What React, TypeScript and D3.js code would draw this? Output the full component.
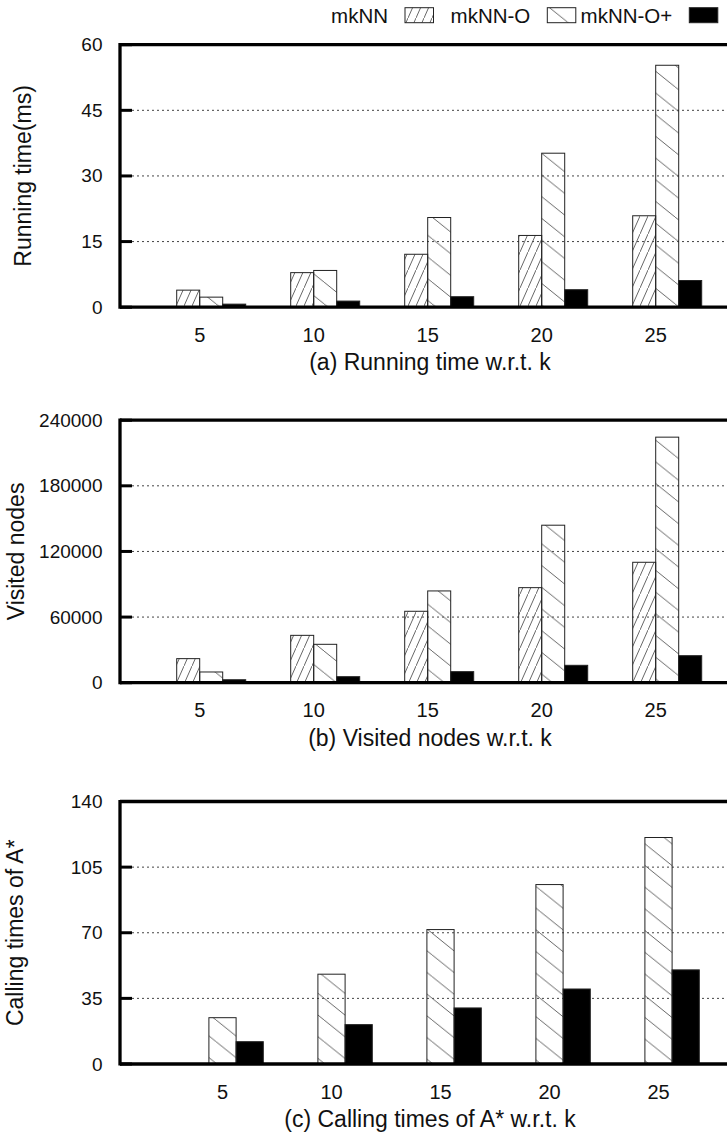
import React from 'react';
import * as d3 from 'd3';

// categories (k) and series
const categories = ['5', '10', '15', '20', '25'];
const seriesNames = ['mkNN', 'mkNN-O', 'mkNN-O+'];

// (a) running time (ms)
const runMkNN = [3.9, 7.9, 12.1, 16.4, 20.9];
const runMkNNO = [2.3, 8.4, 20.5, 35.2, 55.3];
const runMkNNOPlus = [0.7, 1.4, 2.4, 4.0, 6.1];
const runTicks = [0, 15, 30, 45, 60];

// (b) visited nodes
const visMkNN = [22000, 43300, 65300, 86900, 110100];
const visMkNNO = [9800, 35100, 83900, 144000, 224500];
const visMkNNOPlus = [2700, 5500, 10100, 15900, 24700];
const visTicks = [0, 60000, 120000, 180000, 240000];

// (c) calling times of A* (mkNN has none)
const callMkNN = [null, null, null, null, null];
const callMkNNO = [24.7, 47.9, 71.7, 95.7, 120.8];
const callMkNNOPlus = [11.9, 21.0, 29.9, 40.0, 50.2];
const callTicks = [0, 35, 70, 105, 140];

const font = '"Liberation Sans", Arial, sans-serif';
const fills = ['url(#hatchFwd)', 'url(#hatchBack)', '#000'];

const W = 727;
const H = 1137;
const left = 120;
const right = 740;
const plotH = 262.5;

function Panel({ top, series, ticks, ylabel, ylabelX, caption, tickRange, barRange }) {
  const bottom = top + plotH;
  const y = d3.scaleLinear().domain([ticks[0], ticks[ticks.length - 1]]).range([bottom, top]);
  const x = d3.scalePoint().domain(categories).range(tickRange);
  const inner = d3.scaleBand().domain(seriesNames).range(barRange);

  return (
    <g>
      {/* grid lines */}
      {ticks.slice(1, -1).map(t => (
        <line key={'g' + t} x1={left + 12} x2={right} y1={y(t)} y2={y(t)}
          stroke="#444" strokeWidth={1} strokeDasharray="2,3" />
      ))}
      {/* bars */}
      {series.map((vals, si) => vals.map((v, i) => (
        v == null ? null :
          <rect key={`${si}-${i}`}
            x={x(categories[i]) + inner(seriesNames[si])}
            y={y(v)}
            width={inner.bandwidth()}
            height={bottom - y(v)}
            fill={fills[si]}
            stroke="#222"
            strokeWidth={1} />
      )))}
      {/* frame */}
      <line x1={left} x2={right} y1={top} y2={top} stroke="#000" strokeWidth={3.3} />
      <line x1={left} x2={right} y1={bottom} y2={bottom} stroke="#000" strokeWidth={3.3} />
      <line x1={left} x2={left} y1={top - 1.6} y2={bottom + 1.6} stroke="#000" strokeWidth={3.3} />
      {ticks.map(t => (
        <g key={'t' + t}>
          <line x1={left} x2={left + 12} y1={y(t)} y2={y(t)} stroke="#000" strokeWidth={3} />
          <text x={102.5} y={y(t)} textAnchor="end" dominantBaseline="central"
            fontSize={19} fontFamily={font} fill="#111">{t}</text>
        </g>
      ))}
      {categories.map(c => (
        <text key={'x' + c} x={x(c)} y={bottom + 34.5} textAnchor="middle"
          fontSize={20} fontFamily={font} fill="#111">{c}</text>
      ))}
      <text transform={`translate(${ylabelX},${(top + bottom) / 2}) rotate(-90)`}
        textAnchor="middle" fontSize={23} fontFamily={font} fill="#111">{ylabel}</text>
      <text x={430} y={bottom + 63} textAnchor="middle" fontSize={23}
        fontFamily={font} fill="#111">{caption}</text>
    </g>
  );
}

export default function App() {
  const legendX = [405, 547.3, 689.3];
  return (
    <svg width={W} height={H} style={{ position: 'absolute', left: 0, top: 0, background: '#fff' }}>
      <defs>
        <pattern id="hatchFwd" patternUnits="userSpaceOnUse" width={8} height={18}>
          <line x1={0} y1={18} x2={8} y2={0} stroke="#555" strokeWidth={0.9} />
        </pattern>
        <pattern id="hatchBack" patternUnits="userSpaceOnUse" width={27} height={21.7}>
          <line x1={0} y1={0} x2={27} y2={21.7} stroke="#555" strokeWidth={0.9} />
        </pattern>
      </defs>
      <rect width={W} height={H} fill="#fff" />

      {/* legend */}
      {seriesNames.map((s, i) => (
        <g key={s}>
          <text x={legendX[i] - 17} y={22.7} textAnchor="end" fontSize={20.5}
            fontFamily={font} fill="#111">{s}</text>
          <rect x={legendX[i]} y={7.7} width={28.5} height={15} fill={fills[i]}
            stroke="#222" strokeWidth={1} />
        </g>
      ))}

      <Panel top={44.7} series={[runMkNN, runMkNNO, runMkNNOPlus]} ticks={runTicks}
        ylabel="Running time(ms)" ylabelX={31} caption="(a) Running time w.r.t. k"
        tickRange={[199.7, 655.7]} barRange={[-23, 46]} />
      <Panel top={420.2} series={[visMkNN, visMkNNO, visMkNNOPlus]} ticks={visTicks}
        ylabel="Visited nodes" ylabelX={24} caption="(b) Visited nodes w.r.t. k"
        tickRange={[199.7, 655.7]} barRange={[-23, 46]} />
      <Panel top={801.5} series={[callMkNN, callMkNNO, callMkNNOPlus]} ticks={callTicks}
        ylabel="Calling times of A*" ylabelX={23} caption="(c) Calling times of A* w.r.t. k"
        tickRange={[222.5, 658.5]} barRange={[-40.8, 40.8]} />
    </svg>
  );
}
